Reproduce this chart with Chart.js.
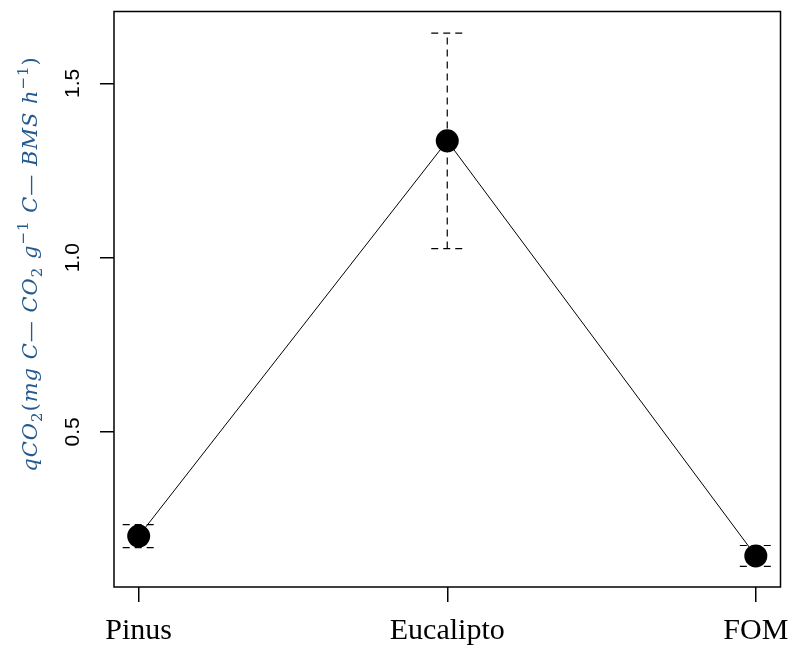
<!DOCTYPE html>
<html>
<head>
<meta charset="utf-8">
<script src="https://cdn.jsdelivr.net/npm/chart.js@4.4.1/dist/chart.umd.min.js"></script>
<style>
  html, body { margin: 0; padding: 0; background: #ffffff; }
  #wrap { width: 792px; height: 648px; }
</style>
</head>
<body>
<div id="wrap"><canvas id="c" width="792" height="648"></canvas></div>
<script>
// Treatments and their mean qCO2 with the half-width of each error bar
const categories = ['Pinus', 'Eucalipto', 'FOM'];
const positions = [1, 2, 3];
const means = [0.201, 1.335, 0.144];
const errors = [0.033, 0.309, 0.030];
const yTicks = [0.5, 1.0, 1.5];

// Axis label pieces: [text, style]  (i = italic, n = upright, sub / sup)
const yTitleParts = [
  ['qCO', 'i'], ['2', 'sub'], ['(', 'n'], ['mg C', 'i'], ['\u2014', 'n'],
  [' CO', 'i'], ['2', 'sub'], [' g', 'i'], ['\u22121', 'sup'], [' C', 'i'],
  ['\u2014', 'n'], [' BMS h', 'i'], ['\u22121', 'sup'], [')', 'n']
];

const points = positions.map((x, i) => ({ x: x, y: means[i] }));

const frameAndBars = {
  id: 'frameAndBars',
  beforeDatasetsDraw(chart) {
    const { ctx, scales } = chart;
    const xs = scales.x, ys = scales.y;
    ctx.save();
    ctx.strokeStyle = '#000';
    ctx.lineWidth = 1.2;
    ctx.setLineDash([7, 5]);
    means.forEach((m, i) => {
      const px = xs.getPixelForValue(positions[i]);
      const top = ys.getPixelForValue(m + errors[i]);
      const bot = ys.getPixelForValue(m - errors[i]);
      ctx.beginPath();
      ctx.moveTo(px, bot); ctx.lineTo(px, top);
      ctx.stroke();
      [top, bot].forEach(py => {
        ctx.beginPath();
        ctx.moveTo(px - 16, py); ctx.lineTo(px + 16, py);
        ctx.stroke();
      });
    });
    ctx.restore();
  },
  afterDraw(chart) {
    const { ctx, chartArea: a, scales } = chart;
    ctx.save();
    // plot frame
    ctx.strokeStyle = '#000';
    ctx.lineWidth = 1.5;
    ctx.strokeRect(a.left, a.top, a.right - a.left, a.bottom - a.top);

    // y tick labels, written along the axis
    ctx.fillStyle = '#000';
    ctx.font = '21px "Liberation Sans", Arial, sans-serif';
    ctx.textAlign = 'center';
    ctx.textBaseline = 'alphabetic';
    yTicks.forEach(v => {
      const py = scales.y.getPixelForValue(v);
      ctx.save();
      ctx.translate(79, py);
      ctx.rotate(-Math.PI / 2);
      ctx.fillText(v.toFixed(1), 0, 0);
      ctx.restore();
    });

    // y axis title with sub/superscripts
    const size = 21;
    const fam = '"DejaVu Serif", serif';
    const fonts = {
      i: 'italic ' + size + 'px ' + fam,
      n: size + 'px ' + fam,
      sub: Math.round(size * 0.72) + 'px ' + fam,
      sup: Math.round(size * 0.72) + 'px ' + fam
    };
    const shift = { i: 0, n: 0, sub: size * 0.25, sup: -size * 0.45 };
    ctx.letterSpacing = '1px';
    let total = 0;
    yTitleParts.forEach(([t, s]) => { ctx.font = fonts[s]; total += ctx.measureText(t).width; });
    ctx.translate(37, 264);
    ctx.rotate(-Math.PI / 2);
    ctx.fillStyle = '#245a8e';
    ctx.textAlign = 'left';
    let x = -total / 2;
    yTitleParts.forEach(([t, s]) => {
      ctx.font = fonts[s];
      ctx.fillText(t, x, shift[s]);
      x += ctx.measureText(t).width;
    });
    ctx.restore();
  }
};

new Chart(document.getElementById('c'), {
  type: 'line',
  data: {
    datasets: [{
      data: points,
      borderColor: '#000',
      borderWidth: 1,
      pointRadius: 11.5,
      pointHoverRadius: 11.5,
      pointBackgroundColor: '#000',
      pointBorderWidth: 0,
      tension: 0,
      clip: false
    }]
  },
  options: {
    responsive: false,
    animation: false,
    events: [],
    layout: { padding: { top: 8, right: 8, left: 0, bottom: 0 } },
    plugins: { legend: { display: false }, tooltip: { enabled: false } },
    scales: {
      x: {
        type: 'linear',
        min: 0.92,
        max: 3.08,
        afterBuildTicks(s) { s.ticks = positions.map(v => ({ value: v })); },
        afterFit(s) { s.height = 61; s.paddingLeft = 0; s.paddingRight = 0; },
        grid: { drawOnChartArea: false, drawTicks: true, tickLength: 15, color: '#000', lineWidth: 1.5 },
        border: { display: false },
        ticks: {
          color: '#000',
          padding: 11,
          font: { family: '"Liberation Serif", serif', size: 30 },
          maxRotation: 0,
          callback: v => categories[positions.indexOf(v)]
        }
      },
      y: {
        min: 0.055,
        max: 1.706,
        afterBuildTicks(s) { s.ticks = yTicks.map(v => ({ value: v })); },
        afterFit(s) { s.width = 114; s.paddingTop = 0; s.paddingBottom = 0; },
        grid: { drawOnChartArea: false, drawTicks: true, tickLength: 14, color: '#000', lineWidth: 1.5 },
        border: { display: false },
        ticks: { display: false }
      }
    }
  },
  plugins: [frameAndBars]
});
</script>
</body>
</html>
